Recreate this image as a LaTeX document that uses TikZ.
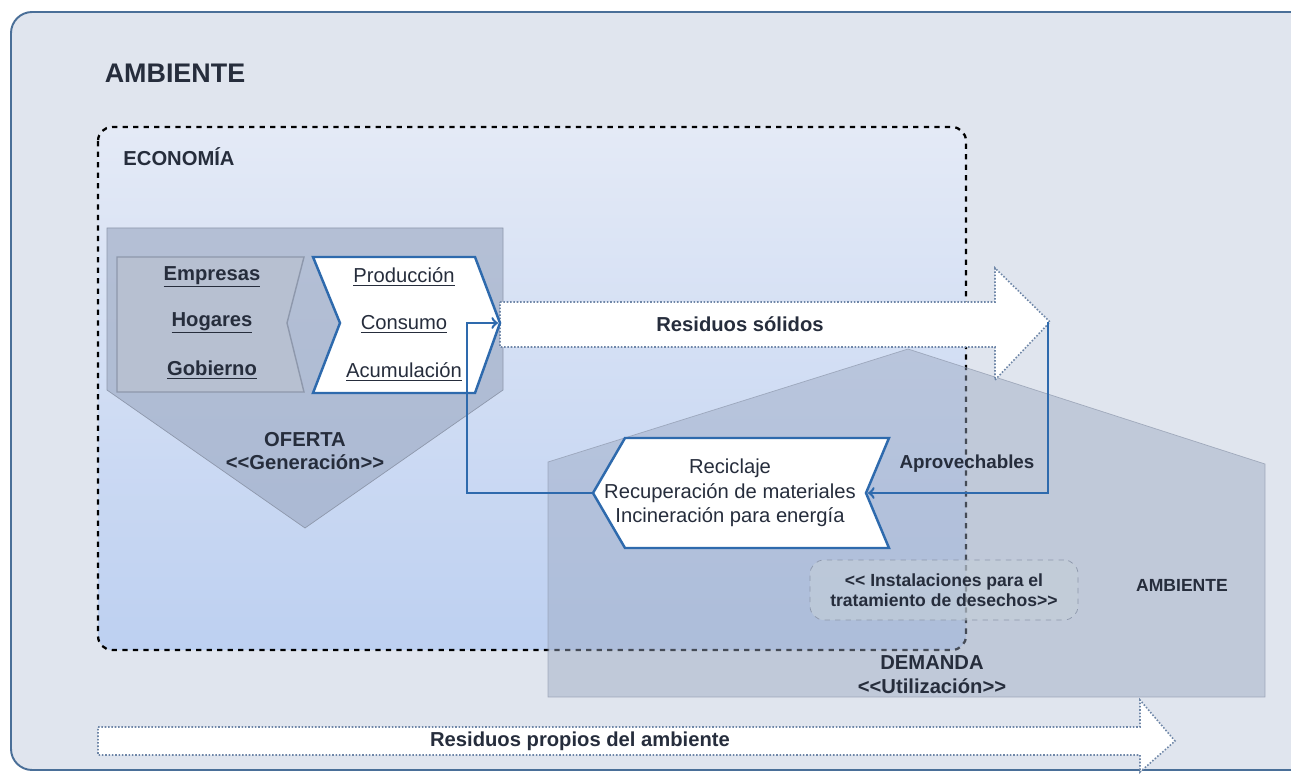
\documentclass[tikz,border=0pt]{standalone}
\usepackage{fontspec}
\setmainfont{Liberation Sans}
\usetikzlibrary{arrows,calc}
\definecolor{ambfondo}{HTML}{E0E5EE}
\definecolor{ambborde}{HTML}{4A6F98}
\definecolor{ecoarriba}{HTML}{E4EAF6}
\definecolor{ecoabajo}{HTML}{BDD0F1}
\definecolor{gris}{HTML}{9AA7C0}
\definecolor{grisborde}{HTML}{8E98AC}
\definecolor{cajagris}{HTML}{B7C0D1}
\definecolor{azul}{HTML}{2E6AAD}
\definecolor{punteado}{HTML}{6F87A8}
\definecolor{texto}{HTML}{262D3C}
\definecolor{instal}{HTML}{C4CFD8}
\tikzset{t/.style={font=\fontsize{11.5}{14}\selectfont, text=texto}}
\tikzset{tb/.style={font=\fontsize{11.5}{13.5}\selectfont\bfseries, text=texto}}
\tikzset{ts/.style={font=\fontsize{10}{11.3}\selectfont\bfseries, text=texto}}
\tikzset{flujo/.style={draw=azul, line width=1.4pt}}
\tikzset{flecha/.style={draw=punteado, densely dotted, line width=0.9pt, fill=white}}

\begin{document}
\begin{tikzpicture}[x=0.02cm, y=-0.02cm, >=to]
  \useasboundingbox (0,0) rectangle (1291,776);
  % fondo ambiente
  \fill[white] (0,0) rectangle (1291,776);
  \draw[ambborde, line width=1.1pt, fill=ambfondo, rounded corners=12] (11,12) rectangle (1320,770);
  \node[font=\fontsize{15.3}{17}\selectfont\bfseries, text=texto] (amb) at (175,73) {AMBIENTE};

  % economia
  \shade[top color=ecoarriba, bottom color=ecoabajo, rounded corners=8] (98,127) rectangle (966,650);
  \draw[dashed, line width=1.3pt, rounded corners=8] (98,127) rectangle (966,650);
  \node[tb] (eco) at (179,157) {ECONOMÍA};

  % oferta
  \fill[gris, fill opacity=0.6, draw=grisborde] (107,228) -- (503,228) -- (503,390) -- (305,528) -- (107,390) -- cycle;
  \node[tb, align=center] (gen) at (305,451) {OFERTA\\<{}<Generación>{}>};
  \fill[cajagris, draw=grisborde, line width=0.8pt] (117,257) -- (304,257) -- (287,323) -- (304,392) -- (117,392) -- cycle;
  \node[tb] (emp) at (212,277) {\underline{Empresas}};
  \node[tb] (hog) at (212,323) {\underline{Hogares}};
  \node[tb] (gob) at (212,370) {\underline{Gobierno}};

  % demanda
  \fill[gris, fill opacity=0.45, draw=grisborde, draw opacity=0.7] (548,462) -- (908,349) -- (1265,464) -- (1265,697) -- (548,697) -- cycle;
  \node[tb, align=center] (dem) at (932,675) {DEMANDA\\<{}<Utilización>{}>};
  \node[ts] (amb2) at (1182,585) {AMBIENTE};
  \node[ts, align=center, draw=grisborde, dashed, fill=instal, fill opacity=0.6, text opacity=1,
        rounded corners=8, minimum width=268*0.02cm, minimum height=60*0.02cm] (inst) at (944,590)
        {<{}< Instalaciones para el\\tratamiento de desechos>{}>};

  % residuos solidos
  \draw[flecha] (500,302) -- (995,302) -- (995,268) -- (1050,322) -- (995,380) -- (995,347) -- (500,347) -- cycle;
  \node[tb] (rs) at (740,324) {Residuos sólidos};

  % residuos propios
  \draw[flecha] (98,727) -- (1140,727) -- (1140,700) -- (1175,741) -- (1140,772) -- (1140,755) -- (98,755) -- cycle;
  \node[tb] (rp) at (580,741) {Residuos propios del ambiente};

  % produccion
  \draw[flujo, fill=white] (313,257) -- (475,257) -- (500,323) -- (475,393) -- (313,393) -- (340,323) -- cycle;
  \node[t] (prod) at (404,277) {\underline{Producción}};
  \node[t] (cons) at (404,324) {\underline{Consumo}};
  \node[t] (acum) at (404,372) {\underline{Acumulación}};

  % reciclaje
  \draw[flujo, fill=white] (625,438) -- (889,438) -- (866,493) -- (889,548) -- (625,548) -- (593,493) -- cycle;
  \node[t, align=center] (rec) at (730,493) {Reciclaje\\Recuperación de materiales\\Incineración para energía};

  \coordinate (rsPunta) at (1048,322);
  \coordinate (recMuesca) at (868,493);
  \coordinate (recPunta) at (593,493);
  \coordinate (giro) at (467,493);
  \coordinate (prodPunta) at (498,323);
  \draw[flujo, ->] (rsPunta) |- (recMuesca);
  \draw[flujo, ->] (recPunta) -- (giro) |- (prodPunta);
  \node[tb, font=\fontsize{10.7}{12}\selectfont\bfseries] (apr) at (967,464) {Aprovechables};
\end{tikzpicture}
\end{document}
